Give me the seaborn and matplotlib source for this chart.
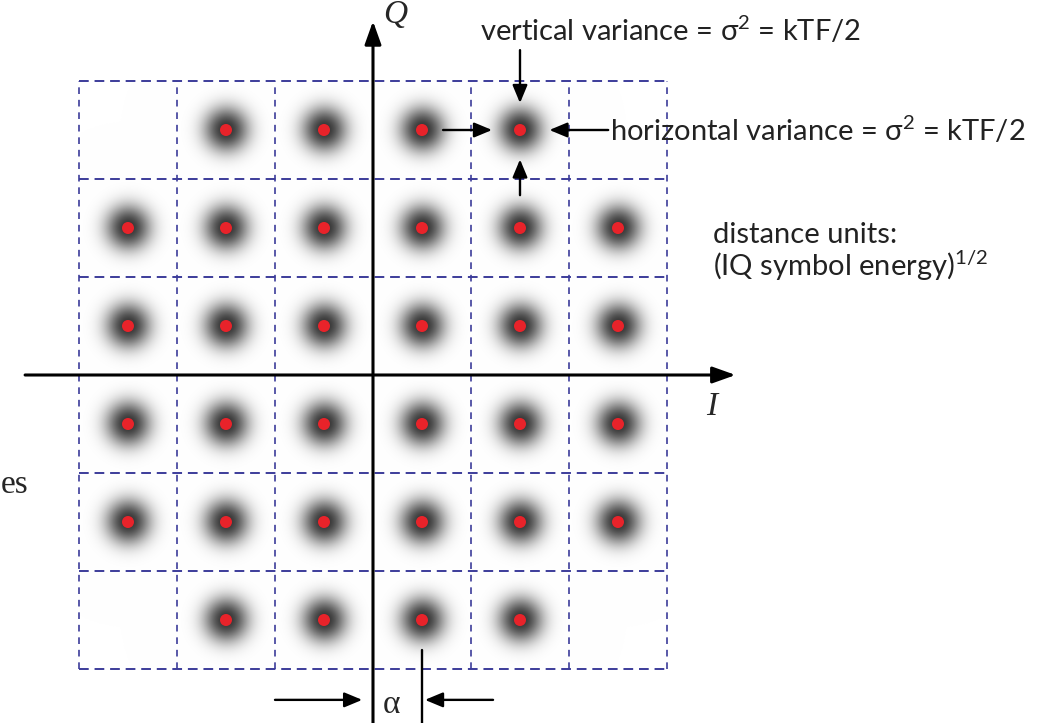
import numpy as np
import pandas as pd
import matplotlib
matplotlib.use("Agg")
import matplotlib.pyplot as plt
import seaborn as sns

# ---- data: 32-point cross constellation (units of alpha) ----
point_i = [-3, -1, 1, 3,
           -5, -3, -1, 1, 3, 5,
           -5, -3, -1, 1, 3, 5,
           -5, -3, -1, 1, 3, 5,
           -5, -3, -1, 1, 3, 5,
           -3, -1, 1, 3]
point_q = [5, 5, 5, 5,
           3, 3, 3, 3, 3, 3,
           1, 1, 1, 1, 1, 1,
           -1, -1, -1, -1, -1, -1,
           -3, -3, -3, -3, -3, -3,
           -5, -5, -5, -5]
grid_edges = [-6, -4, -2, 0, 2, 4, 6]
noise_radius = 0.45

sns.set_style("white")
plt.rcParams["font.family"] = ["Lato", "DejaVu Sans"]
plt.rcParams["mathtext.fontset"] = "custom"
plt.rcParams["mathtext.rm"] = "Lato"
plt.rcParams["mathtext.it"] = "Lato:italic"
plt.rcParams["mathtext.default"] = "regular"

fig = plt.figure(figsize=(10.47, 7.23), dpi=100)
ax = fig.add_axes([0, 0, 1, 1])

df = pd.DataFrame({"I": point_i, "Q": point_q})

# noise clouds around each symbol
xs = np.linspace(-6, 6, 800)
X, Y = np.meshgrid(xs, xs)
field = np.zeros_like(X)
for pi, pq in zip(df["I"], df["Q"]):
    r = np.sqrt((X - pi) ** 2 + (Y - pq) ** 2)
    field += np.exp(-(r / noise_radius) ** 2.3)
field = np.clip(field, 0, 1)
gray = 1 - 0.8 * field
rgb = np.dstack([gray, gray, gray])
ax.imshow(rgb, extent=[-6, 6, -6, 6], origin="lower", interpolation="bilinear",
          zorder=1, aspect="auto")

# dashed grid
gcol = "#3c3c9a"
for e in grid_edges:
    ax.plot([e, e], [-6, 6], color=gcol, lw=1.2, ls=(0, (4, 3.5)), zorder=2)
    ax.plot([-6, 6], [e, e], color=gcol, lw=1.4, ls=(0, (5, 3)), zorder=2)

# red symbol dots
sns.scatterplot(data=df, x="I", y="Q", ax=ax, color="#e8232a", s=75,
                edgecolor="none", zorder=4, legend=False)
ax.set_xlabel("")
ax.set_ylabel("")
ax.set_xlim(-7.612, 13.755)
ax.set_ylim(-7.102, 7.653)
ax.axis("off")

arrow_kw = dict(arrowstyle="-|>,head_length=0.7,head_width=0.25", color="black",
                lw=2.2, mutation_scale=20, shrinkA=0, shrinkB=0)
# axes
ax.annotate("", xy=(7.4, 0), xytext=(-7.1, 0), arrowprops=arrow_kw, zorder=5)
ax.annotate("", xy=(0, 7.22), xytext=(0, -7.2), arrowprops=arrow_kw, zorder=5)
ax.text(0.2, 7.35, "Q", fontsize=24, family="Liberation Serif", style="italic",
        ha="left", va="center")
ax.text(6.8, -0.65, "I", fontsize=24, family="Liberation Serif", style="italic",
        ha="left", va="center")

# variance annotations
small_kw = dict(arrowstyle="-|>,head_length=0.6,head_width=0.25", color="black",
                lw=1.7, mutation_scale=18, shrinkA=0, shrinkB=0)
ax.annotate("", xy=(2.43, 5), xytext=(1.43, 5), arrowprops=small_kw)
ax.annotate("", xy=(3.6, 5), xytext=(4.8, 5), arrowprops=small_kw)
ax.annotate("", xy=(3, 5.55), xytext=(3, 6.63), arrowprops=small_kw)
ax.annotate("", xy=(3, 4.4), xytext=(3, 3.67), arrowprops=small_kw)

tcol = "#222222"
ax.text(2.18, 7.03, "vertical variance = $\\sigma^2$ = kTF/2", fontsize=21,
        ha="left", va="center", color=tcol)
ax.text(4.83, 5.0, "horizontal variance = $\\sigma^2$ = kTF/2", fontsize=21,
        ha="left", va="center", color=tcol)
ax.text(6.94, 2.86, "distance units:", fontsize=21, ha="left", va="center",
        color=tcol)
ax.text(6.94, 2.22, "(IQ symbol energy)$^{1/2}$", fontsize=21, ha="left",
        va="center", color=tcol)

# alpha annotation
ax.annotate("", xy=(-0.22, -6.63), xytext=(-2.0, -6.63), arrowprops=small_kw)
ax.annotate("", xy=(1.06, -6.63), xytext=(2.45, -6.63), arrowprops=small_kw)
ax.plot([1, 1], [-5.61, -7.2], color="black", lw=1.7, zorder=5)
ax.text(0.2, -6.72, "α", fontsize=24, family="Liberation Serif", ha="left",
        va="center")

# word fragment at the left edge
ax.text(-7.59, -2.24, "es", fontsize=24, family="Liberation Serif", ha="left",
        va="center")

fig.savefig("out.png", dpi=100)
